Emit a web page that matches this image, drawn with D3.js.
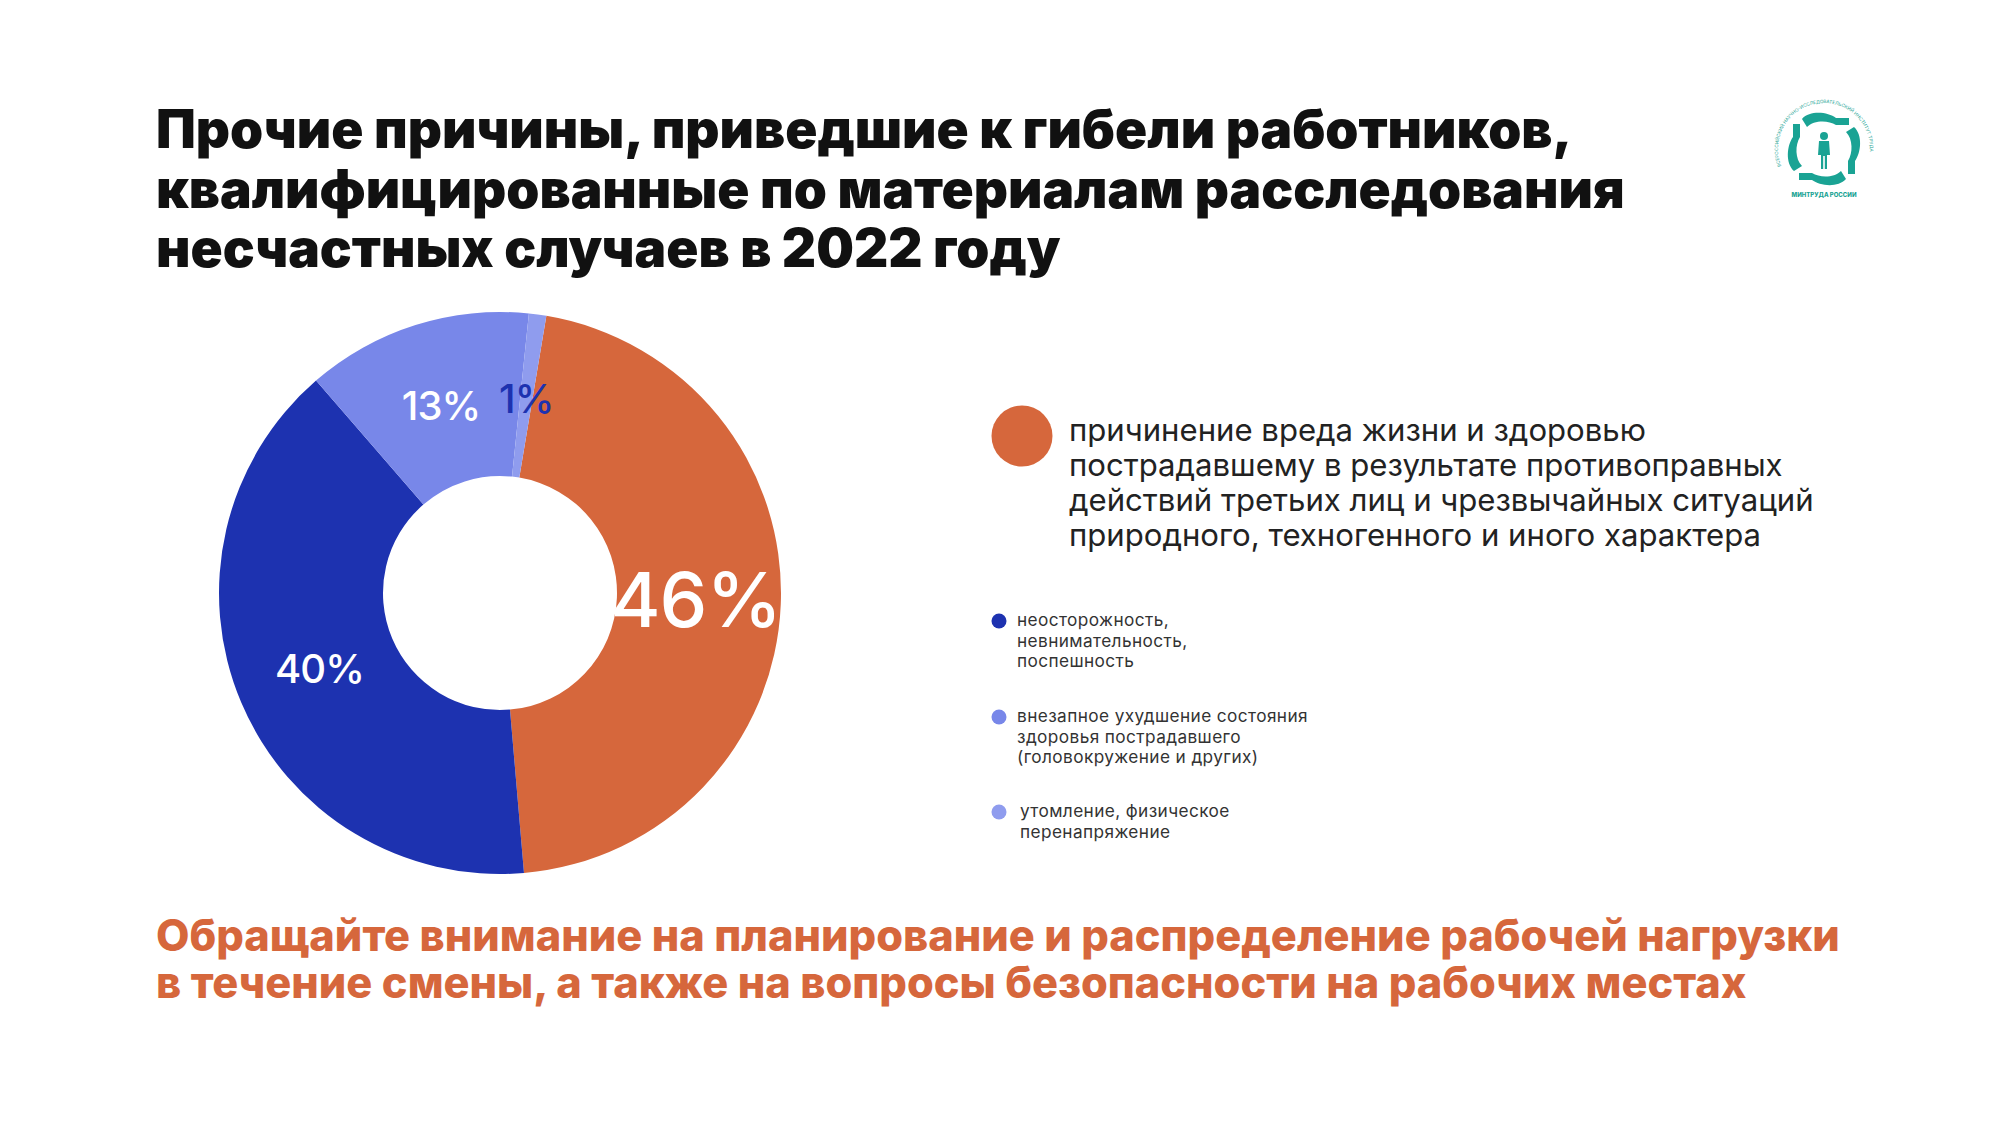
<!DOCTYPE html>
<html>
<head>
<meta charset="utf-8">
<script src="https://cdn.jsdelivr.net/npm/d3@7"></script>
<style>
  html, body { margin: 0; padding: 0; background: #fff; }
  svg { display: block; }
</style>
</head>
<body>
<div id="chart"></div>
<script>
// DATA
var categories = [
  'причинение вреда жизни и здоровью пострадавшему в результате противоправных действий третьих лиц и чрезвычайных ситуаций природного, техногенного и иного характера',
  'неосторожность, невнимательность, поспешность',
  'внезапное ухудшение состояния здоровья пострадавшего (головокружение и других)',
  'утомление, физическое перенапряжение'
];
var values = [46, 40, 13, 1];
var colors = ['#d6673c', '#1d32b0', '#7887e9', '#8f9cee'];
var labelColors = ['#ffffff', '#ffffff', '#ffffff', '#1d32b0'];

var titleLines = [
  'Прочие причины, приведшие к гибели работников,',
  'квалифицированные по материалам расследования',
  'несчастных случаев в 2022 году'
];
var noteLines = [
  'Обращайте внимание на планирование и распределение рабочей нагрузки',
  'в течение смены, а также на вопросы безопасности на рабочих местах'
];
var mainLegendLines = [
  'причинение вреда жизни и здоровью',
  'пострадавшему в результате противоправных',
  'действий третьих лиц и чрезвычайных ситуаций',
  'природного, техногенного и иного характера'
];
var smallLegendLines = [
  ['неосторожность,', 'невнимательность,', 'поспешность'],
  ['внезапное ухудшение состояния', 'здоровья пострадавшего', '(головокружение и других)'],
  ['утомление, физическое', 'перенапряжение']
];
var logoRingText = 'ВСЕРОССИЙСКИЙ НАУЧНО-ИССЛЕДОВАТЕЛЬСКИЙ ИНСТИТУТ ТРУДА';
var logoBottomText = 'МИНТРУДА РОССИИ';

var W = 2000, H = 1125;
var FONT = 'Inter, "Open Sans", "DejaVu Sans", sans-serif';

var svg = d3.select('#chart').append('svg')
  .attr('width', W)
  .attr('height', H);

svg.append('rect').attr('width', W).attr('height', H).attr('fill', '#fff');

// shrink/grow a block of lines so its widest line hits the target width
function fitBlock(g, target) {
  var size = +g.attr('font-size');
  var widest = 0;
  g.selectAll('text').each(function() { widest = Math.max(widest, this.getComputedTextLength()); });
  g.attr('font-size', size * target / widest);
}

// TITLE
var title = svg.append('g')
  .attr('font-family', FONT)
  .attr('font-weight', 900)
  .attr('font-size', 56)
  .attr('fill', '#111');
title.selectAll('text')
  .data(titleLines)
  .enter().append('text')
    .attr('x', 156)
    .attr('y', function(d, i) { return 148 + i * 59.5; })
    .text(function(d) { return d; });
fitBlock(title, 1469);

// DONUT
var cx = 500, cy = 593, outerR = 281, innerR = 117;
var start = 9.5 * Math.PI / 180;

var pie = d3.pie().sort(null)
  .startAngle(start)
  .endAngle(start + 2 * Math.PI);
var arcs = pie(values);

var arc = d3.arc().innerRadius(innerR).outerRadius(outerR);
var labelArc = d3.arc().innerRadius(196).outerRadius(196);

var donut = svg.append('g').attr('transform', 'translate(' + cx + ',' + cy + ')');

donut.selectAll('path')
  .data(arcs)
  .enter().append('path')
    .attr('d', arc)
    .attr('fill', function(d, i) { return colors[i]; });

donut.selectAll('text')
  .data(arcs)
  .enter().append('text')
    .attr('transform', function(d) { return 'translate(' + labelArc.centroid(d) + ')'; })
    .attr('text-anchor', 'middle')
    .attr('dy', function(d, i) { return i === 0 ? 26 : 14; })
    .attr('font-family', FONT)
    .attr('font-weight', 500)
    .attr('font-size', function(d, i) { return i === 0 ? 76 : 40; })
    .attr('letter-spacing', -1)
    .attr('fill', function(d, i) { return labelColors[i]; })
    .text(function(d) { return d.data + '%'; });

// MAIN LEGEND (orange)
svg.append('circle')
  .attr('cx', 1022).attr('cy', 436).attr('r', 30.5)
  .attr('fill', colors[0]);

var mainLegend = svg.append('g')
  .attr('font-family', FONT)
  .attr('font-weight', 400)
  .attr('font-size', 28)
  .attr('fill', '#222');
mainLegend.selectAll('text')
  .data(mainLegendLines)
  .enter().append('text')
    .attr('x', 1069)
    .attr('y', function(d, i) { return 441 + i * 35; })
    .text(function(d) { return d; });
fitBlock(mainLegend, 745);

// SMALL LEGEND
var itemTop = [621, 717, 812];
var small = svg.append('g')
  .attr('font-family', FONT)
  .attr('font-size', 16)
  .attr('fill', '#333');

var items = small.selectAll('g.item')
  .data(smallLegendLines)
  .enter().append('g')
    .attr('class', 'item')
    .attr('transform', function(d, i) { return 'translate(0,' + itemTop[i] + ')'; });

items.append('circle')
  .attr('cx', 999).attr('cy', 0).attr('r', 7.5)
  .attr('fill', function(d, i) { return colors[i + 1]; });

items.selectAll('text')
  .data(function(d, i) { return d.map(function(t) { return { t: t, k: i }; }); })
  .enter().append('text')
    .attr('x', function(d) { return d.k === 2 ? 1020 : 1017; })
    .attr('y', function(d, j) { return 5 + j * 20.5; })
    .attr('letter-spacing', 0.4)
    .text(function(d) { return d.t; });
fitBlock(small, 292);

// NOTE
var note = svg.append('g')
  .attr('font-family', FONT)
  .attr('font-weight', 800)
  .attr('font-size', 46)
  .attr('fill', colors[0]);
note.selectAll('text')
  .data(noteLines)
  .enter().append('text')
    .attr('x', 156)
    .attr('y', function(d, i) { return 951 + i * 47; })
    .text(function(d) { return d; });
fitBlock(note, 1684);

// LOGO (simplified)
var teal = '#1aa394';
var logo = svg.append('g').attr('transform', 'translate(1824,149)');

// lettering over the top of the ring only, so it stays clear of the bottom line
var ringR = 46, a0 = -112 * Math.PI / 180, a1 = 112 * Math.PI / 180;
logo.append('path').attr('id', 'logo-ring')
  .attr('d', 'M ' + ringR * Math.sin(a0) + ',' + (-ringR * Math.cos(a0)) +
             ' A ' + ringR + ',' + ringR + ' 0 1,1 ' + ringR * Math.sin(a1) + ',' + (-ringR * Math.cos(a1)))
  .attr('fill', 'none');
logo.append('text')
  .attr('font-family', FONT).attr('font-size', 4.6).attr('fill', teal)
  .append('textPath').attr('href', '#logo-ring')
  .text(logoRingText);
logo.append('text')
  .attr('x', 0).attr('y', 48)
  .attr('text-anchor', 'middle')
  .attr('font-family', FONT).attr('font-size', 6).attr('font-weight', 800).attr('fill', teal)
  .text(logoBottomText);

// four hands round the figure
[0, 90, 180, 270].forEach(function(a) {
  logo.append('path')
    .attr('transform', 'rotate(' + a + ')')
    .attr('d', 'M -22,-30 C -14,-39 4,-37 12,-31 L 25,-31 L 25,-24 L 12,-24 C 4,-29 -10,-29 -17,-22 Z')
    .attr('fill', teal);
});
logo.append('circle').attr('cx', 0).attr('cy', -13).attr('r', 4).attr('fill', teal);
logo.append('path')
  .attr('d', 'M -5,-8 L 5,-8 L 6,6 L 3,6 L 3,20 L 0.8,20 L 0.8,7 L -0.8,7 L -0.8,20 L -3,20 L -3,6 L -6,6 Z')
  .attr('fill', teal);
</script>
</body>
</html>
